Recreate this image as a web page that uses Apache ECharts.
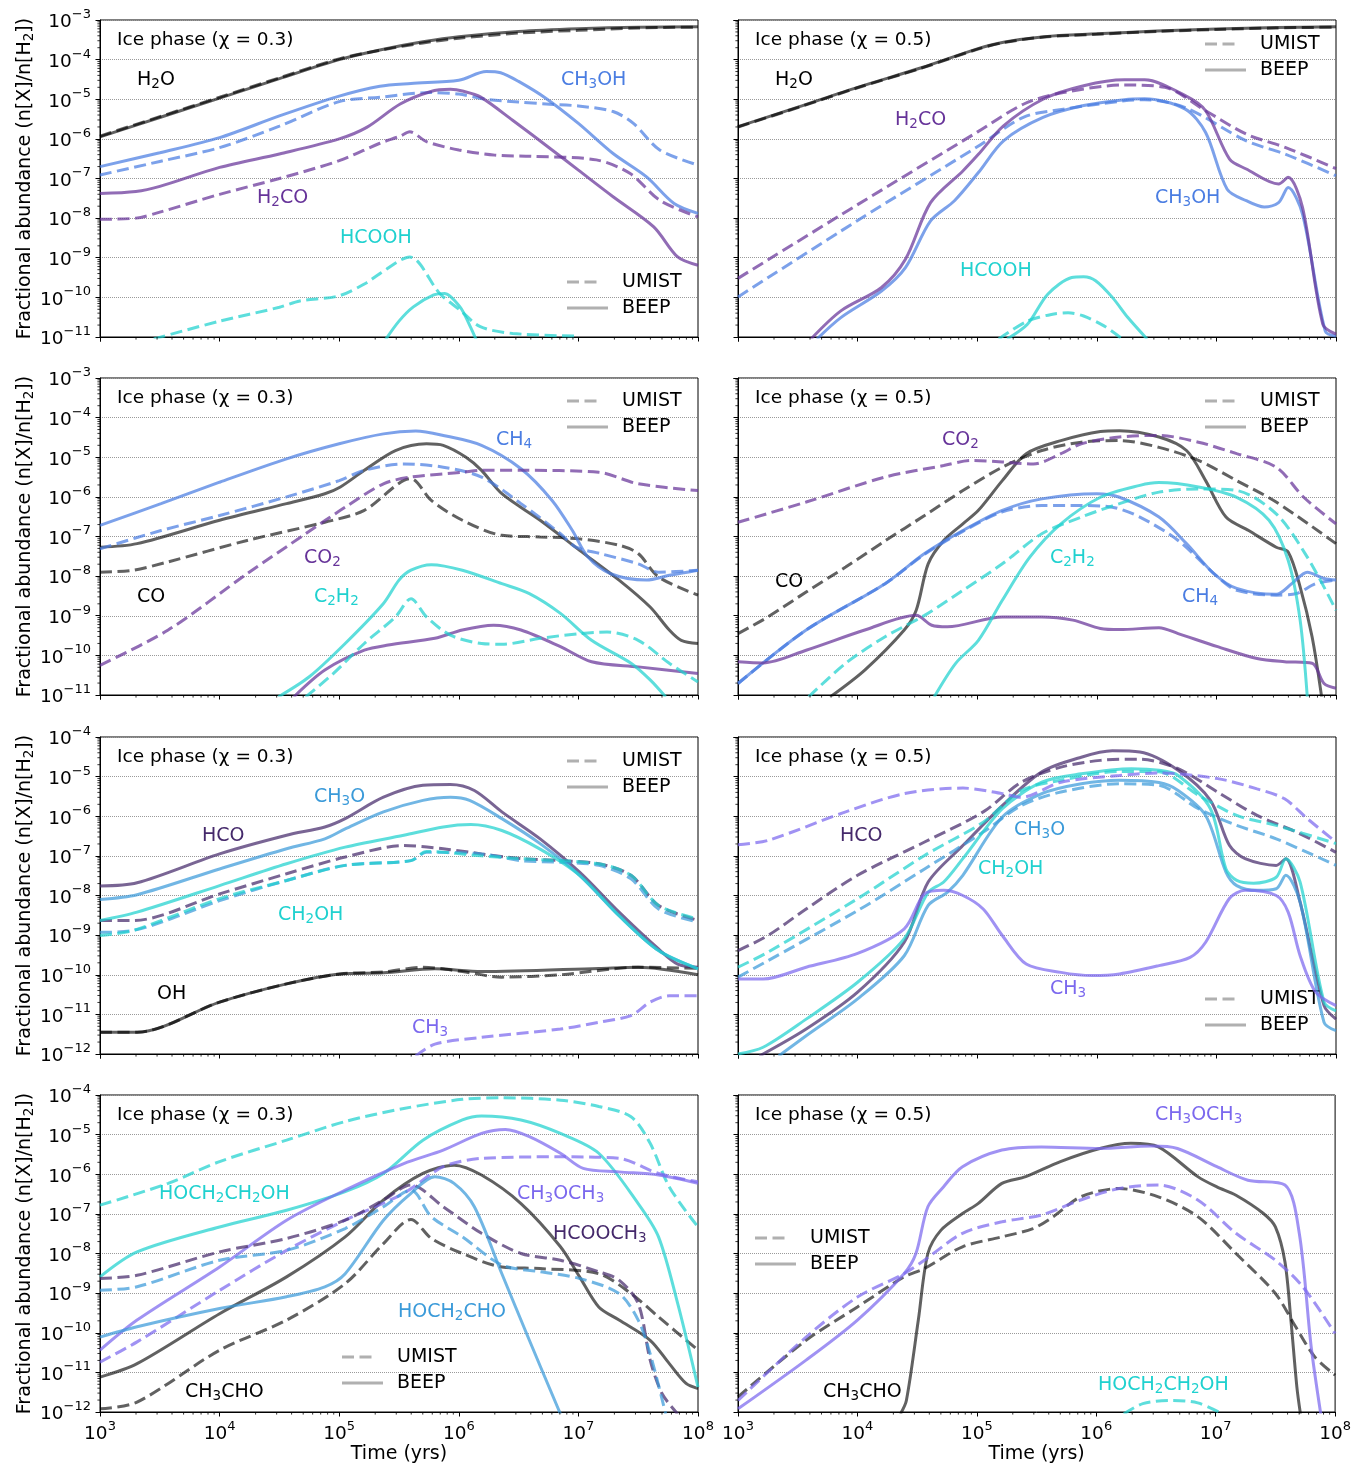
<!DOCTYPE html>
<html>
<head>
<meta charset="utf-8">
<script src="https://cdn.jsdelivr.net/npm/echarts@6/dist/echarts.min.js"></script>
<style>
html, body { margin: 0; padding: 0; background: #fff; }
#chart { width: 1354px; height: 1465px; }
</style>
</head>
<body>
<div id="chart"></div>
<script>
// Ice-phase fractional abundances, UMIST vs BEEP binding energies.
// Every point is [log10 time (yr), log10 n(X)/n(H2)].

// ---- chi = 0.3, row 1 ----
const h2o_03_beep = [[3.0,-5.95],[3.5,-5.46],[4.0,-4.97],[4.5,-4.48],[5.0,-4.0],[5.35,-3.75],[5.7,-3.55],[6.0,-3.42],[6.5,-3.29],[7.0,-3.22],[7.5,-3.18],[8.0,-3.17]];
const h2o_03_umist = [[3.0,-5.93],[3.5,-5.44],[4.0,-4.95],[4.5,-4.46],[5.0,-3.98],[5.35,-3.76],[5.7,-3.58],[6.0,-3.46],[6.5,-3.33],[7.0,-3.26],[7.5,-3.2],[8.0,-3.18]];
const ch3oh_03_beep = [[3.0,-6.70],[3.5,-6.35],[4.0,-5.97],[4.5,-5.42],[5.0,-4.92],[5.34,-4.67],[5.6,-4.6],[6.0,-4.52],[6.23,-4.3],[6.35,-4.33],[6.5,-4.55],[6.73,-4.98],[7.0,-5.61],[7.29,-6.37],[7.57,-6.96],[7.8,-7.63],[8.0,-7.88]];
const ch3oh_03_umist = [[3.0,-6.91],[3.5,-6.57],[4.0,-6.22],[4.5,-5.68],[5.0,-5.06],[5.34,-4.95],[5.76,-4.83],[6.0,-4.87],[6.23,-5.0],[6.5,-5.07],[6.73,-5.12],[7.0,-5.17],[7.29,-5.31],[7.46,-5.61],[7.68,-6.28],[8.0,-6.66]];
const h2co_03_beep = [[3.0,-7.38],[3.3,-7.33],[3.5,-7.2],[4.0,-6.72],[4.5,-6.38],[5.0,-6.0],[5.23,-5.71],[5.51,-5.12],[5.76,-4.81],[5.93,-4.75],[6.04,-4.8],[6.18,-4.94],[6.45,-5.53],[6.78,-6.28],[7.0,-6.79],[7.29,-7.46],[7.63,-8.22],[7.83,-8.98],[8.0,-9.19]];
const h2co_03_umist = [[3.0,-8.03],[3.3,-8.0],[3.5,-7.85],[4.0,-7.4],[4.5,-7.0],[5.0,-6.55],[5.34,-6.11],[5.51,-5.93],[5.59,-5.82],[5.73,-6.07],[6.0,-6.28],[6.3,-6.41],[6.6,-6.44],[7.15,-6.53],[7.43,-6.87],[7.68,-7.55],[8.0,-7.97]];
const hcooh_03_beep = [[5.38,-11.1],[5.5,-10.6],[5.62,-10.24],[5.79,-9.94],[5.88,-9.9],[6.01,-10.24],[6.09,-10.7],[6.15,-11.1]];
const hcooh_03_umist = [[3.45,-11.05],[4.0,-10.6],[4.5,-10.25],[4.67,-10.09],[5.0,-9.96],[5.23,-9.63],[5.34,-9.4],[5.59,-8.98],[5.84,-9.9],[6.01,-10.32],[6.18,-10.74],[6.45,-10.91],[7.0,-10.98]];

// ---- chi = 0.5, row 1 ----
const h2o_05_beep = [[3.0,-5.69],[3.5,-5.2],[4.0,-4.7],[4.54,-4.2],[5.0,-3.73],[5.22,-3.56],[5.56,-3.42],[6.0,-3.35],[6.5,-3.28],[7.0,-3.23],[7.5,-3.19],[8.0,-3.17]];
const h2o_05_umist = [[3.0,-5.7],[3.5,-5.21],[4.0,-4.71],[4.54,-4.21],[5.0,-3.74],[5.22,-3.57],[5.56,-3.43],[6.0,-3.36],[6.5,-3.29],[7.0,-3.24],[7.5,-3.2],[8.0,-3.18]];
const h2co_05_umist = [[3.0,-9.52],[4.0,-7.66],[5.0,-5.83],[5.39,-5.12],[5.72,-4.83],[6.23,-4.64],[6.57,-4.7],[6.91,-5.29],[7.25,-5.88],[7.58,-6.22],[8.0,-6.75]];
const ch3oh_05_umist = [[3.0,-9.99],[4.0,-8.06],[5.0,-6.2],[5.39,-5.45],[5.72,-5.25],[6.23,-5.04],[6.4,-5.01],[6.74,-5.21],[7.25,-6.05],[7.58,-6.39],[8.0,-6.93]];
const h2co_05_beep = [[3.61,-11.05],[3.86,-10.34],[4.2,-9.75],[4.4,-9.04],[4.61,-7.61],[4.88,-6.81],[5.01,-6.39],[5.22,-5.67],[5.55,-5.0],[5.89,-4.66],[6.23,-4.51],[6.4,-4.51],[6.74,-4.91],[6.91,-5.29],[7.11,-6.51],[7.25,-6.76],[7.52,-7.14],[7.6,-6.97],[7.72,-7.73],[7.89,-10.68],[8.0,-10.93]];
const ch3oh_05_beep = [[3.66,-11.05],[3.86,-10.51],[4.2,-9.84],[4.4,-9.25],[4.61,-8.07],[4.81,-7.56],[5.01,-6.85],[5.22,-6.05],[5.55,-5.46],[5.89,-5.16],[6.23,-5.01],[6.4,-4.99],[6.74,-5.25],[6.91,-5.84],[7.09,-7.27],[7.25,-7.56],[7.4,-7.72],[7.52,-7.61],[7.6,-7.23],[7.72,-7.9],[7.91,-10.85],[8.0,-10.98]];
const hcooh_05_beep = [[5.25,-11.05],[5.42,-10.68],[5.59,-9.92],[5.79,-9.5],[5.89,-9.48],[5.99,-9.58],[6.13,-10.0],[6.26,-10.51],[6.42,-11.05]];
const hcooh_05_umist = [[5.18,-11.05],[5.42,-10.6],[5.62,-10.43],[5.76,-10.39],[5.89,-10.47],[6.06,-10.72],[6.2,-11.02]];

// ---- chi = 0.3, row 2 ----
const ch4_03_beep = [[3.0,-6.72],[3.51,-6.17],[4.0,-5.63],[4.56,-5.04],[5.0,-4.66],[5.37,-4.41],[5.64,-4.34],[5.87,-4.45],[6.19,-4.7],[6.52,-5.29],[6.78,-6.09],[6.95,-6.85],[7.08,-7.52],[7.27,-7.94],[7.57,-8.1],[7.76,-7.98],[8.0,-7.85]];
const ch4_03_umist = [[3.0,-7.31],[3.51,-6.85],[4.0,-6.47],[4.56,-6.0],[5.0,-5.59],[5.21,-5.33],[5.54,-5.17],[5.87,-5.25],[6.19,-5.5],[6.52,-6.17],[6.85,-6.93],[6.98,-7.27],[7.18,-7.43],[7.5,-7.69],[7.67,-7.9],[8.0,-7.85]];
const co_03_beep = [[3.0,-7.27],[3.31,-7.18],[4.0,-6.59],[4.56,-6.17],[4.88,-5.92],[5.01,-5.75],[5.21,-5.33],[5.47,-4.83],[5.73,-4.66],[5.87,-4.7],[6.06,-5.0],[6.19,-5.33],[6.36,-5.92],[6.68,-6.59],[7.01,-7.35],[7.34,-8.1],[7.6,-8.78],[7.76,-9.36],[7.86,-9.62],[8.0,-9.7]];
const co_03_umist = [[3.0,-7.9],[3.28,-7.85],[3.57,-7.64],[4.23,-7.1],[4.88,-6.64],[5.21,-6.34],[5.6,-5.54],[5.77,-6.09],[6.03,-6.59],[6.36,-6.97],[6.68,-7.01],[7.01,-7.06],[7.34,-7.22],[7.5,-7.43],[7.67,-8.02],[8.0,-8.48]];
const co2_03_umist = [[3.0,-10.25],[3.57,-9.36],[4.23,-7.94],[4.72,-6.93],[5.05,-6.26],[5.37,-5.67],[5.6,-5.5],[6.03,-5.38],[6.19,-5.33],[6.52,-5.33],[7.17,-5.38],[7.5,-5.67],[8.0,-5.84]];
const co2_03_beep = [[4.62,-11.05],[4.88,-10.37],[5.21,-9.87],[5.41,-9.74],[5.8,-9.57],[6.03,-9.36],[6.29,-9.24],[6.52,-9.36],[6.85,-9.78],[7.11,-10.16],[7.5,-10.29],[8.0,-10.46]];
const c2h2_03_beep = [[4.49,-11.05],[4.75,-10.54],[5.05,-9.7],[5.37,-8.69],[5.5,-8.1],[5.6,-7.85],[5.77,-7.71],[6.03,-7.85],[6.36,-8.19],[6.59,-8.44],[6.85,-8.94],[7.11,-9.62],[7.44,-10.2],[7.6,-10.62],[7.73,-11.05]];
const c2h2_03_umist = [[4.72,-11.05],[4.95,-10.46],[5.21,-9.7],[5.47,-9.03],[5.6,-8.57],[5.73,-9.03],[5.93,-9.49],[6.19,-9.7],[6.36,-9.72],[6.68,-9.57],[7.01,-9.45],[7.24,-9.41],[7.5,-9.62],[7.76,-10.2],[8.0,-10.67]];

// ---- chi = 0.5, row 2 ----
const co2_05_umist = [[3.0,-6.64],[3.57,-6.13],[4.23,-5.5],[4.72,-5.21],[4.95,-5.08],[5.21,-5.12],[5.47,-5.17],[5.7,-4.91],[5.87,-4.66],[6.19,-4.49],[6.52,-4.45],[6.85,-4.62],[7.17,-4.91],[7.5,-5.25],[7.73,-6.01],[8.0,-6.68]];
const co_05_umist = [[3.0,-9.45],[3.25,-9.03],[3.57,-8.4],[3.9,-7.77],[4.23,-7.11],[4.56,-6.47],[4.88,-5.84],[5.21,-5.25],[5.54,-4.83],[5.87,-4.62],[6.19,-4.58],[6.52,-4.75],[6.85,-5.08],[7.17,-5.59],[7.5,-6.13],[8.0,-7.18]];
const co_05_beep = [[3.77,-11.05],[4.06,-10.37],[4.39,-9.36],[4.49,-8.86],[4.59,-7.69],[4.72,-7.1],[4.88,-6.68],[5.01,-6.34],[5.21,-5.59],[5.41,-4.91],[5.7,-4.58],[6.03,-4.35],[6.19,-4.33],[6.52,-4.49],[6.75,-4.83],[6.91,-5.59],[7.08,-6.51],[7.27,-6.85],[7.5,-7.27],[7.6,-7.39],[7.7,-8.27],[7.8,-9.53],[7.88,-11.05]];
const ch4_05_beep = [[3.0,-10.71],[3.57,-9.36],[4.23,-8.19],[4.56,-7.43],[4.88,-6.85],[5.21,-6.34],[5.54,-6.05],[6.0,-5.92],[6.19,-6.01],[6.52,-6.51],[6.75,-7.18],[6.98,-7.94],[7.17,-8.31],[7.5,-8.46],[7.63,-8.19],[7.76,-7.9],[7.9,-8.06],[8.0,-8.1]];
const ch4_05_umist = [[3.0,-10.71],[3.57,-9.36],[4.23,-8.19],[4.56,-7.45],[4.88,-6.87],[5.21,-6.38],[5.54,-6.22],[5.87,-6.22],[6.13,-6.26],[6.36,-6.51],[6.68,-7.1],[7.01,-8.02],[7.17,-8.36],[7.5,-8.48],[7.67,-8.44],[7.83,-8.19],[8.0,-8.1]];
const c2h2_05_beep = [[4.64,-11.05],[4.82,-10.2],[5.01,-9.62],[5.21,-8.61],[5.44,-7.52],[5.7,-6.68],[6.03,-6.01],[6.36,-5.71],[6.52,-5.64],[6.85,-5.75],[7.17,-6.01],[7.44,-6.59],[7.6,-7.6],[7.7,-9.11],[7.76,-11.05]];
const c2h2_05_umist = [[3.59,-11.05],[3.9,-10.2],[4.23,-9.53],[4.56,-8.99],[4.88,-8.36],[5.21,-7.69],[5.54,-6.93],[5.87,-6.51],[6.19,-6.17],[6.52,-5.88],[6.85,-5.8],[7.17,-5.84],[7.5,-6.43],[7.76,-7.52],[8.0,-8.86]];
const co2_05_beep = [[3.0,-10.16],[3.21,-10.19],[3.57,-9.87],[4.06,-9.36],[4.49,-8.99],[4.62,-9.24],[4.75,-9.28],[5.21,-9.03],[5.54,-9.03],[5.8,-9.11],[6.03,-9.32],[6.19,-9.35],[6.52,-9.3],[6.68,-9.45],[7.01,-9.78],[7.34,-10.08],[7.57,-10.16],[7.8,-10.2],[7.9,-10.71],[8.0,-10.83]];

// ---- chi = 0.3, row 3 ----
const hco_03_beep = [[3.0,-7.76],[3.31,-7.68],[4.0,-6.95],[4.56,-6.48],[4.88,-6.27],[5.05,-6.06],[5.37,-5.52],[5.7,-5.22],[5.93,-5.2],[6.13,-5.35],[6.36,-5.89],[6.68,-6.57],[7.01,-7.41],[7.34,-8.42],[7.67,-9.35],[7.83,-9.73],[8.0,-9.81]];
const ch3o_03_beep = [[3.0,-8.1],[3.31,-7.98],[4.0,-7.33],[4.56,-6.82],[4.88,-6.57],[5.05,-6.32],[5.37,-5.89],[5.7,-5.6],[5.93,-5.52],[6.09,-5.6],[6.36,-6.06],[6.68,-6.69],[7.01,-7.49],[7.34,-8.51],[7.67,-9.39],[8.0,-9.85]];
const ch2oh_03_beep = [[3.0,-8.63],[3.31,-8.42],[4.0,-7.75],[4.56,-7.2],[5.05,-6.78],[5.54,-6.48],[5.87,-6.27],[6.1,-6.21],[6.36,-6.36],[6.68,-6.83],[7.01,-7.49],[7.34,-8.51],[7.67,-9.39],[8.0,-9.85]];
const hco_03_umist = [[3.0,-8.63],[3.28,-8.63],[4.0,-7.96],[4.56,-7.45],[5.05,-7.03],[5.54,-6.74],[5.87,-6.82],[6.19,-6.95],[6.52,-7.07],[6.85,-7.12],[7.17,-7.2],[7.44,-7.49],[7.67,-8.25],[8.0,-8.63]];
const ch3o_03_umist = [[3.0,-8.93],[3.28,-8.88],[4.0,-8.13],[4.56,-7.62],[5.05,-7.24],[5.6,-7.12],[5.73,-6.91],[6.19,-6.95],[6.52,-7.12],[6.85,-7.16],[7.17,-7.24],[7.44,-7.58],[7.67,-8.34],[8.0,-8.67]];
const ch2oh_03_umist = [[3.0,-9.01],[3.28,-8.88],[4.0,-8.08],[4.56,-7.62],[5.05,-7.24],[5.6,-7.12],[5.73,-6.89],[6.19,-7.0],[6.52,-7.07],[7.17,-7.2],[7.44,-7.49],[7.67,-8.25],[8.0,-8.59]];
const oh_03_beep = [[3.0,-11.45],[3.31,-11.45],[4.0,-10.69],[4.56,-10.23],[5.01,-9.98],[5.37,-9.95],[5.8,-9.85],[6.19,-9.92],[7.17,-9.84],[7.5,-9.81],[8.0,-10.0]];
const oh_03_umist = [[3.0,-11.45],[3.31,-11.45],[4.0,-10.69],[4.56,-10.23],[5.01,-9.98],[5.37,-9.93],[5.7,-9.81],[6.03,-9.92],[6.36,-10.06],[6.85,-10.0],[7.5,-9.81],[8.0,-9.84]];
const ch3_03_umist = [[5.64,-12.05],[5.8,-11.75],[6.19,-11.58],[6.85,-11.37],[7.17,-11.2],[7.44,-11.03],[7.6,-10.69],[7.76,-10.53],[8.0,-10.53]];

// ---- chi = 0.5, row 3 ----
const hco_05_umist = [[3.0,-9.39],[3.25,-9.01],[3.57,-8.34],[4.0,-7.49],[4.56,-6.65],[5.05,-5.89],[5.37,-5.14],[5.7,-4.76],[6.03,-4.59],[6.36,-4.56],[6.68,-4.8],[7.01,-5.39],[7.34,-5.98],[7.67,-6.4],[8.0,-6.91]];
const ch2oh_05_umist = [[3.0,-9.81],[3.25,-9.43],[4.0,-8.08],[4.56,-6.99],[5.05,-6.15],[5.37,-5.35],[5.7,-5.09],[6.19,-4.87],[6.52,-4.88],[6.85,-5.47],[7.17,-5.98],[7.5,-6.23],[8.0,-6.69]];
const ch3o_05_umist = [[3.0,-10.06],[4.0,-8.38],[4.56,-7.33],[5.05,-6.4],[5.37,-5.73],[5.7,-5.39],[6.19,-5.18],[6.52,-5.22],[6.85,-5.81],[7.17,-6.23],[7.5,-6.57],[8.0,-7.24]];
const ch3_05_umist = [[3.0,-6.72],[3.25,-6.61],[3.9,-5.89],[4.39,-5.43],[4.88,-5.29],[5.21,-5.43],[5.37,-5.52],[5.7,-5.14],[6.19,-4.97],[6.52,-4.91],[7.01,-5.05],[7.34,-5.31],[7.57,-5.56],[7.76,-6.06],[8.0,-6.65]];
const hco_05_beep = [[3.18,-12.05],[3.57,-11.37],[4.0,-10.44],[4.39,-9.18],[4.59,-7.66],[4.88,-6.74],[5.21,-5.73],[5.54,-4.88],[5.87,-4.51],[6.13,-4.35],[6.36,-4.38],[6.68,-4.84],[6.95,-5.6],[7.11,-6.74],[7.24,-7.07],[7.5,-7.24],[7.58,-7.07],[7.7,-8.17],[7.9,-10.78],[8.0,-11.12]];
const ch2oh_05_beep = [[3.0,-12.0],[3.21,-11.83],[3.57,-11.12],[4.0,-10.19],[4.39,-9.09],[4.59,-7.92],[4.72,-7.66],[4.88,-7.07],[5.21,-5.81],[5.54,-5.14],[5.87,-4.93],[6.29,-4.8],[6.52,-4.84],[6.68,-4.97],[6.95,-5.81],[7.08,-7.33],[7.17,-7.62],[7.31,-7.69],[7.5,-7.54],[7.58,-7.07],[7.7,-7.66],[7.9,-10.69],[8.0,-10.91]];
const ch3o_05_beep = [[3.34,-12.05],[3.57,-11.54],[4.0,-10.61],[4.39,-9.52],[4.59,-8.25],[4.75,-7.92],[4.88,-7.49],[5.21,-6.02],[5.54,-5.43],[5.87,-5.18],[6.19,-5.09],[6.52,-5.15],[6.68,-5.35],[6.91,-5.98],[7.08,-7.41],[7.17,-7.75],[7.34,-7.87],[7.5,-7.83],[7.58,-7.49],[7.7,-8.17],[7.9,-11.2],[8.0,-11.41]];
const ch3_05_beep = [[3.0,-10.11],[3.21,-10.11],[3.57,-9.81],[4.0,-9.46],[4.39,-8.84],[4.56,-7.96],[4.72,-7.87],[4.88,-8.0],[5.05,-8.34],[5.21,-9.01],[5.41,-9.73],[5.7,-9.94],[5.96,-10.02],[6.19,-9.98],[6.52,-9.77],[6.78,-9.56],[6.91,-9.18],[7.11,-8.07],[7.24,-7.87],[7.5,-8.0],[7.6,-8.42],[7.7,-9.52],[7.83,-10.44],[8.0,-10.78]];

// ---- chi = 0.3, row 4 ----
const hoch2ch2oh_03_umist = [[3.0,-6.78],[3.57,-6.23],[4.0,-5.68],[4.56,-5.14],[5.05,-4.67],[5.54,-4.34],[6.03,-4.11],[6.36,-4.07],[6.85,-4.13],[7.17,-4.29],[7.44,-4.55],[7.6,-5.22],[7.76,-6.32],[8.0,-7.33]];
const hoch2ch2oh_03_beep = [[3.0,-8.59],[3.31,-7.96],[4.0,-7.33],[4.56,-6.91],[5.05,-6.44],[5.37,-5.98],[5.7,-5.14],[6.03,-4.63],[6.19,-4.53],[6.52,-4.63],[6.85,-4.97],[7.17,-5.47],[7.5,-6.74],[7.67,-7.58],[7.83,-9.26],[8.0,-11.37]];
const ch3och3_03_beep = [[3.0,-10.44],[3.31,-9.68],[4.0,-8.34],[4.56,-7.16],[5.05,-6.4],[5.54,-5.73],[5.87,-5.39],[6.19,-4.97],[6.39,-4.87],[6.59,-5.05],[6.85,-5.47],[7.04,-5.85],[7.34,-5.94],[7.67,-6.02],[8.0,-6.23]];
const ch3och3_03_umist = [[3.0,-10.74],[3.31,-10.23],[4.0,-8.93],[4.56,-7.92],[5.05,-7.16],[5.54,-6.48],[5.87,-5.81],[6.19,-5.6],[6.85,-5.56],[7.34,-5.6],[7.67,-5.98],[8.0,-6.19]];
const hcooch3_03_umist = [[3.0,-8.63],[3.31,-8.55],[4.0,-7.96],[4.56,-7.62],[5.05,-7.16],[5.37,-6.65],[5.6,-6.27],[5.87,-6.82],[6.19,-7.49],[6.52,-8.0],[6.85,-8.17],[7.17,-8.46],[7.34,-8.67],[7.5,-9.26],[7.6,-10.69],[7.7,-11.54],[7.83,-12.05]];
const hoch2cho_03_umist = [[3.0,-8.93],[3.31,-8.84],[4.0,-8.17],[4.56,-7.92],[5.05,-7.37],[5.37,-6.82],[5.6,-6.4],[5.77,-7.07],[6.03,-7.58],[6.36,-8.29],[6.68,-8.46],[7.01,-8.63],[7.34,-9.01],[7.5,-9.68],[7.6,-10.53],[7.73,-12.05]];
const hoch2cho_03_beep = [[3.0,-10.11],[3.31,-9.85],[4.0,-9.39],[4.56,-9.09],[4.88,-8.84],[5.05,-8.51],[5.37,-7.16],[5.6,-6.48],[5.8,-6.06],[5.96,-6.23],[6.13,-6.82],[6.36,-8.51],[6.59,-10.19],[6.85,-12.05]];
const ch3cho_03_beep = [[3.0,-11.12],[3.31,-10.78],[4.0,-9.52],[4.56,-8.59],[5.05,-7.58],[5.37,-6.65],[5.7,-5.98],[5.96,-5.77],[6.19,-6.02],[6.52,-6.74],[6.85,-7.83],[7.01,-8.59],[7.17,-9.35],[7.34,-9.68],[7.6,-10.19],[7.76,-10.78],[7.9,-11.28],[8.0,-11.41]];
const ch3cho_03_umist = [[3.0,-11.92],[3.31,-11.75],[4.0,-10.44],[4.56,-9.68],[5.05,-8.76],[5.37,-7.75],[5.6,-7.14],[5.77,-7.62],[6.03,-8.0],[6.36,-8.34],[6.68,-8.38],[7.17,-8.51],[7.44,-9.01],[7.67,-9.6],[8.0,-10.44]];

// ---- chi = 0.5, row 4 ----
const ch3och3_05_beep = [[3.0,-11.92],[3.57,-10.69],[4.0,-9.68],[4.39,-8.51],[4.49,-8.0],[4.59,-6.82],[4.72,-6.32],[4.88,-5.81],[5.21,-5.39],[5.54,-5.31],[6.03,-5.35],[6.46,-5.29],[6.68,-5.35],[7.01,-5.81],[7.27,-6.15],[7.58,-6.27],[7.7,-7.49],[7.8,-10.36],[7.88,-12.05]];
const ch3cho_05_beep = [[4.36,-12.05],[4.41,-11.71],[4.51,-9.68],[4.59,-8.0],[4.7,-7.41],[4.88,-6.99],[5.01,-6.74],[5.21,-6.23],[5.41,-6.06],[5.7,-5.68],[6.03,-5.35],[6.29,-5.22],[6.52,-5.31],[6.85,-6.06],[7.01,-6.32],[7.17,-6.53],[7.4,-6.99],[7.5,-7.33],[7.58,-8.21],[7.63,-9.68],[7.68,-11.37],[7.71,-12.05]];
const ch3och3_05_umist = [[3.0,-11.71],[3.57,-10.11],[4.0,-9.1],[4.39,-8.51],[4.56,-8.17],[4.88,-7.49],[5.21,-7.2],[5.54,-7.03],[5.87,-6.65],[6.19,-6.36],[6.52,-6.27],[6.85,-6.65],[7.17,-7.49],[7.5,-8.17],[7.73,-8.84],[8.0,-10.02]];
const ch3cho_05_umist = [[3.0,-11.62],[3.57,-10.19],[4.0,-9.35],[4.39,-8.59],[4.56,-8.38],[4.88,-7.83],[5.21,-7.58],[5.47,-7.37],[5.64,-7.07],[5.87,-6.57],[6.19,-6.36],[6.52,-6.57],[6.85,-7.07],[7.17,-8.0],[7.5,-9.01],[7.67,-9.85],[7.83,-10.61],[8.0,-11.07]];
const hoch2ch2oh_05_umist = [[6.23,-12.05],[6.39,-11.79],[6.62,-11.71],[6.85,-11.77],[7.06,-12.05]];

// Axis ranges and tick helpers
const X_RANGE = [1e3, 1e8];
const Y_RANGE_TOP = [1e-11, 1e-3];
const Y_RANGE_LOW = [1e-12, 1e-4];
const MINOR_STEPS = [2, 3, 4, 5, 6, 7, 8, 9];

// Colours
const BLACK = '#000000', BLUE = '#4a7de2', PURPLE = '#663399', TURQ = '#1fd1cf',
      DPURPLE = '#45296b', SKY = '#3a9ad9', SLATE = '#7b68ee';

const FONT = '"DejaVu Sans", "Liberation Sans", sans-serif';
const TEXT_SIZE = 19, SUB_SIZE = 13.5;
const GRID_LEFT = [100, 738];
const GRID_TOP = [20, 378, 737, 1095];
const GRID_W = 598, GRID_H = 317;

const panels = [
  { chi: '0.3', yr: Y_RANGE_TOP, legend: [567, 282],
    lines: [[h2o_03_beep, BLACK, 'b'], [h2o_03_umist, BLACK, 'u'],
            [ch3oh_03_beep, BLUE, 'b'], [ch3oh_03_umist, BLUE, 'u'],
            [h2co_03_beep, PURPLE, 'b'], [h2co_03_umist, PURPLE, 'u'],
            [hcooh_03_beep, TURQ, 'b'], [hcooh_03_umist, TURQ, 'u']],
    labels: [['H2O', 137, 80, BLACK], ['CH3OH', 561, 80, BLUE], ['H2CO', 257, 198, PURPLE], ['HCOOH', 340, 238, TURQ]] },
  { chi: '0.5', yr: Y_RANGE_TOP, legend: [1205, 44],
    lines: [[h2o_05_beep, BLACK, 'b'], [h2o_05_umist, BLACK, 'u'],
            [ch3oh_05_beep, BLUE, 'b'], [ch3oh_05_umist, BLUE, 'u'],
            [h2co_05_beep, PURPLE, 'b'], [h2co_05_umist, PURPLE, 'u'],
            [hcooh_05_beep, TURQ, 'b'], [hcooh_05_umist, TURQ, 'u']],
    labels: [['H2O', 775, 80, BLACK], ['H2CO', 895, 120, PURPLE], ['CH3OH', 1155, 198, BLUE], ['HCOOH', 960, 271, TURQ]] },
  { chi: '0.3', yr: Y_RANGE_TOP, legend: [567, 401],
    lines: [[co_03_beep, BLACK, 'b'], [co_03_umist, BLACK, 'u'],
            [ch4_03_beep, BLUE, 'b'], [ch4_03_umist, BLUE, 'u'],
            [co2_03_beep, PURPLE, 'b'], [co2_03_umist, PURPLE, 'u'],
            [c2h2_03_beep, TURQ, 'b'], [c2h2_03_umist, TURQ, 'u']],
    labels: [['CH4', 496, 440, BLUE], ['CO2', 304, 558, PURPLE], ['CO', 137, 597, BLACK], ['C2H2', 314, 597, TURQ]] },
  { chi: '0.5', yr: Y_RANGE_TOP, legend: [1205, 401],
    lines: [[co_05_beep, BLACK, 'b'], [co_05_umist, BLACK, 'u'],
            [ch4_05_beep, BLUE, 'b'], [ch4_05_umist, BLUE, 'u'],
            [co2_05_beep, PURPLE, 'b'], [co2_05_umist, PURPLE, 'u'],
            [c2h2_05_beep, TURQ, 'b'], [c2h2_05_umist, TURQ, 'u']],
    labels: [['CO2', 942, 440, PURPLE], ['C2H2', 1050, 558, TURQ], ['CO', 775, 582, BLACK], ['CH4', 1182, 597, BLUE]] },
  { chi: '0.3', yr: Y_RANGE_LOW, legend: [567, 761],
    lines: [[oh_03_beep, BLACK, 'b'], [oh_03_umist, BLACK, 'u'],
            [hco_03_beep, DPURPLE, 'b'], [hco_03_umist, DPURPLE, 'u'],
            [ch3o_03_beep, SKY, 'b'], [ch3o_03_umist, SKY, 'u'],
            [ch2oh_03_beep, TURQ, 'b'], [ch2oh_03_umist, TURQ, 'u'],
            [ch3_03_umist, SLATE, 'u']],
    labels: [['CH3O', 314, 797, SKY], ['HCO', 202, 836, DPURPLE], ['CH2OH', 278, 915, TURQ], ['OH', 157, 994, BLACK], ['CH3', 412, 1028, SLATE]] },
  { chi: '0.5', yr: Y_RANGE_LOW, legend: [1205, 999],
    lines: [[hco_05_beep, DPURPLE, 'b'], [hco_05_umist, DPURPLE, 'u'],
            [ch3o_05_beep, SKY, 'b'], [ch3o_05_umist, SKY, 'u'],
            [ch2oh_05_beep, TURQ, 'b'], [ch2oh_05_umist, TURQ, 'u'],
            [ch3_05_beep, SLATE, 'b'], [ch3_05_umist, SLATE, 'u']],
    labels: [['HCO', 840, 836, DPURPLE], ['CH3O', 1014, 830, SKY], ['CH2OH', 978, 869, TURQ], ['CH3', 1050, 989, SLATE]] },
  { chi: '0.3', yr: Y_RANGE_LOW, legend: [342, 1357],
    lines: [[ch3cho_03_beep, BLACK, 'b'], [ch3cho_03_umist, BLACK, 'u'],
            [hoch2ch2oh_03_beep, TURQ, 'b'], [hoch2ch2oh_03_umist, TURQ, 'u'],
            [ch3och3_03_beep, SLATE, 'b'], [ch3och3_03_umist, SLATE, 'u'],
            [hcooch3_03_umist, DPURPLE, 'u'],
            [hoch2cho_03_beep, SKY, 'b'], [hoch2cho_03_umist, SKY, 'u']],
    labels: [['HOCH2CH2OH', 159, 1194, TURQ], ['CH3OCH3', 517, 1194, SLATE], ['HCOOCH3', 553, 1234, DPURPLE],
             ['HOCH2CHO', 398, 1312, SKY], ['CH3CHO', 185, 1392, BLACK]] },
  { chi: '0.5', yr: Y_RANGE_LOW, legend: [755, 1238],
    lines: [[ch3cho_05_beep, BLACK, 'b'], [ch3cho_05_umist, BLACK, 'u'],
            [ch3och3_05_beep, SLATE, 'b'], [ch3och3_05_umist, SLATE, 'u'],
            [hoch2ch2oh_05_umist, TURQ, 'u']],
    labels: [['CH3OCH3', 1155, 1115, SLATE], ['CH3CHO', 823, 1392, BLACK], ['HOCH2CH2OH', 1098, 1385, TURQ]] }
];

const toPoints = pts => pts.map(p => [Math.pow(10, p[0]), Math.pow(10, p[1])]);

// tick labels as 10 with a raised exponent
function powLabel(v) {
  const e = Math.round(Math.log10(v));
  return '{b|10}{s|' + String(e).replace('-', '\u2212') + '}';
}
const labelRich = {
  b: { fontSize: 18.5, fontFamily: FONT, color: '#000', lineHeight: 24, verticalAlign: 'bottom' },
  s: { fontSize: 13, fontFamily: FONT, color: '#000', lineHeight: 13, verticalAlign: 'top' }
};

// chemical formula -> rich text with lowered digits
function formulaRich(t) {
  return t.replace(/(\d)|([^\d]+)/g, (m, d, s) => d ? '{d|' + d + '}' : '{n|' + s + '}');
}
function formulaStyle(color) {
  return {
    n: { fontSize: TEXT_SIZE, fontFamily: FONT, fill: color, lineHeight: 22, verticalAlign: 'middle' },
    d: { fontSize: SUB_SIZE, fontFamily: FONT, fill: color, lineHeight: 8, verticalAlign: 'bottom' }
  };
}

function minorTicks(xr, yr) {
  const d = [];
  const x0 = Math.round(Math.log10(xr[0])), x1 = Math.round(Math.log10(xr[1]));
  const y0 = Math.round(Math.log10(yr[0])), y1 = Math.round(Math.log10(yr[1]));
  for (let e = x0; e < x1; e++) MINOR_STEPS.forEach(m => d.push([m * Math.pow(10, e), yr[0], 0]));
  for (let e = y0; e < y1; e++) MINOR_STEPS.forEach(m => d.push([xr[0], m * Math.pow(10, e), 1]));
  return d;
}

const grids = [], xAxes = [], yAxes = [], series = [], graphics = [];

panels.forEach((p, i) => {
  const row = Math.floor(i / 2), col = i % 2;
  const left = GRID_LEFT[col], top = GRID_TOP[row];
  grids.push({ left, top, width: GRID_W, height: GRID_H, show: true,
               borderColor: '#000', borderWidth: 1, backgroundColor: 'transparent' });
  xAxes.push({
    gridIndex: i, type: 'log', logBase: 10, min: X_RANGE[0], max: X_RANGE[1],
    axisLine: { show: true, lineStyle: { color: '#000', width: 1 } },
    axisTick: { show: true, inside: false, length: 4.5, lineStyle: { color: '#000', width: 1 } },
    axisLabel: { show: row === 3, formatter: powLabel, rich: labelRich, margin: 8,
                 showMinLabel: true, showMaxLabel: true, hideOverlap: false },
    splitLine: { show: false },
    name: row === 3 ? 'Time (yrs)' : '', nameLocation: 'middle', nameGap: 31,
    nameTextStyle: { fontSize: TEXT_SIZE, fontFamily: FONT, color: '#000' }
  });
  yAxes.push({
    gridIndex: i, type: 'log', logBase: 10, min: p.yr[0], max: p.yr[1],
    axisLine: { show: true, lineStyle: { color: '#000', width: 1 } },
    axisTick: { show: true, inside: false, length: 4.5, lineStyle: { color: '#000', width: 1 } },
    axisLabel: { show: col === 0, formatter: powLabel, rich: labelRich, margin: 9,
                 showMinLabel: true, showMaxLabel: true, hideOverlap: false },
    splitLine: { show: true, lineStyle: { type: 'dotted', color: '#9a9a9a', width: 1 } },
    name: col === 0 ? '{n|Fractional abundance (n[X]/n[H}{d|2}{n|])}' : '',
    nameLocation: 'middle', nameGap: 64,
    nameTextStyle: { fontSize: TEXT_SIZE, fontFamily: FONT, color: '#000',
      rich: { n: { fontSize: TEXT_SIZE, fontFamily: FONT, color: '#000', lineHeight: 22, verticalAlign: 'middle' },
              d: { fontSize: SUB_SIZE, fontFamily: FONT, color: '#000', lineHeight: 8, verticalAlign: 'bottom' } } }
  });

  p.lines.forEach(([pts, color, kind]) => {
    series.push({
      type: 'line', xAxisIndex: i, yAxisIndex: i, data: toPoints(pts),
      showSymbol: false, symbol: 'none', smooth: 0.3, silent: true, animation: false,
      clip: true,
      lineStyle: { color, width: 3, type: kind === 'u' ? [12, 5.5] : 'solid',
                   opacity: color === BLACK ? 0.62 : 0.72 },
      emphasis: { disabled: true }
    });
  });

  // minor log ticks on both axes
  series.push({
    type: 'custom', xAxisIndex: i, yAxisIndex: i, silent: true, animation: false, clip: false, z: 5,
    data: minorTicks(X_RANGE, p.yr),
    encode: { x: 0, y: 1 },
    renderItem: (params, api) => {
      const c = api.coord([api.value(0), api.value(1)]);
      const vertical = api.value(2) === 0;
      return { type: 'line',
               shape: vertical ? { x1: c[0], y1: c[1], x2: c[0], y2: c[1] + 2.6 }
                               : { x1: c[0] - 2.6, y1: c[1], x2: c[0], y2: c[1] },
               style: { stroke: '#000', lineWidth: 0.8 } };
    }
  });

  // panel title
  graphics.push({ type: 'text', x: left + 17, y: top + 20,
    style: { text: 'Ice phase (χ = ' + p.chi + ')', fontSize: 18.5, fontFamily: FONT, fill: '#000',
             align: 'left', verticalAlign: 'middle' } });
  // species labels
  p.labels.forEach(([t, x, y, c]) => graphics.push({ type: 'text', x, y,
    style: { text: formulaRich(t), rich: formulaStyle(c), fill: c, fontSize: TEXT_SIZE, fontFamily: FONT,
             align: 'left', verticalAlign: 'middle' } }));
  // UMIST / BEEP key
  const [lx, ly] = p.legend;
  graphics.push({ type: 'line', shape: { x1: lx, y1: ly, x2: lx + 35, y2: ly },
    style: { stroke: '#b0b0b0', lineWidth: 3, lineDash: [12, 5.5] } });
  graphics.push({ type: 'line', shape: { x1: lx, y1: ly + 26, x2: lx + 41, y2: ly + 26 },
    style: { stroke: '#b0b0b0', lineWidth: 3 } });
  graphics.push({ type: 'text', x: lx + 55, y: ly,
    style: { text: 'UMIST', fontSize: TEXT_SIZE, fontFamily: FONT, fill: '#000', align: 'left', verticalAlign: 'middle' } });
  graphics.push({ type: 'text', x: lx + 55, y: ly + 26,
    style: { text: 'BEEP', fontSize: TEXT_SIZE, fontFamily: FONT, fill: '#000', align: 'left', verticalAlign: 'middle' } });
});

const chart = echarts.init(document.getElementById('chart'), null, { renderer: 'canvas' });
chart.setOption({
  backgroundColor: '#fff',
  animation: false,
  grid: grids,
  xAxis: xAxes,
  yAxis: yAxes,
  series: series,
  graphic: { elements: graphics }
});
</script>
</body>
</html>
